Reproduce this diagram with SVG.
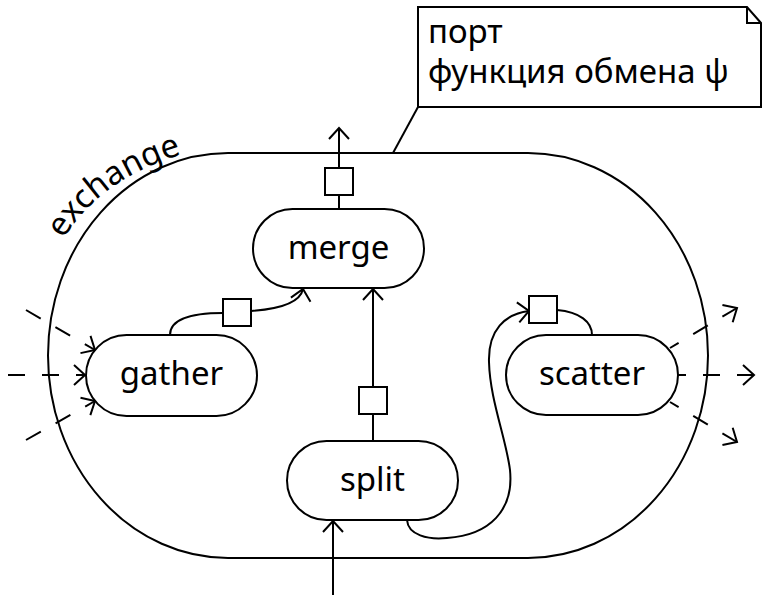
<svg xmlns="http://www.w3.org/2000/svg" width="762" height="595" viewBox="0 0 762 595">
  <style>
    .ln { fill: none; stroke: #000; stroke-width: 2; }
    .node { fill: #fff; stroke: #000; stroke-width: 2; }
    .port { fill: #fff; stroke: #000; stroke-width: 2; }
    .dash { fill: none; stroke: #000; stroke-width: 2; stroke-dasharray: 17 17; }
    .lbl { font-family: "Noto Sans", "Open Sans", sans-serif; font-size: 33px; fill: #000; }
    .mid { text-anchor: middle; }
  </style>
  <defs>
    <marker id="arr" markerUnits="userSpaceOnUse" markerWidth="30" markerHeight="30" viewBox="-15 -15 30 30" refX="0" refY="0" orient="auto-start-reverse">
      <path d="M-11,-10 L0,0 L-11,10" fill="none" stroke="#000" stroke-width="2"/>
    </marker>
    <!-- baseline of the container label, curving round the top-left corner -->
    <path id="exarc" d="M63,240 Q98,182 174,157"/>
  </defs>

  <!-- exchange container -->
  <g id="exchange">
    <rect class="ln" x="48" y="153" width="660" height="405" rx="180" ry="202.5"/>
    <text class="lbl"><textPath href="#exarc" startOffset="1">exchange</textPath></text>
  </g>

  <!-- note -->
  <g id="note">
    <path class="ln" d="M418,7 L747,7 L761,23 L761,107 L418,107 Z" fill="#fff"/>
    <path class="ln" d="M747,7 L747,23 L761,23"/>
    <text class="lbl"><tspan x="428" y="43">порт</tspan><tspan x="428" y="83">функция обмена ψ</tspan></text>
  </g>

  <g id="connectors">
    <!-- note anchor -->
    <path class="ln" d="M418,107 L393,153"/>
    <!-- merge output -->
    <path class="ln" d="M339,209 L339,195"/>
    <path class="ln" d="M339,168 L339,128" marker-end="url(#arr)"/>
    <!-- gather to merge -->
    <path class="ln" d="M170,335 C170,318 195,313 223,313"/>
    <path class="ln" d="M251,311 C280,309 300,303 303,289" marker-end="url(#arr)"/>
    <!-- split to merge -->
    <path class="ln" d="M373,441 L373,414"/>
    <path class="ln" d="M373,387 L373,289" marker-end="url(#arr)"/>
    <!-- split input -->
    <path class="ln" d="M333,595 L333,521" marker-end="url(#arr)"/>
    <!-- split to scatter -->
    <path class="ln" d="M407,520 C408,535 428,540 447,538 C490,535 514,510 510,470 C506,438 490,400 489,362 C488,330 505,314 529,311" marker-end="url(#arr)"/>
    <path class="ln" d="M557,310 C580,312 592,322 592,335"/>
    <!-- gather inputs -->
    <path class="dash" d="M26,310 L95,350" marker-end="url(#arr)"/>
    <path class="dash" d="M8,375 L85,375" marker-end="url(#arr)"/>
    <path class="dash" d="M26,440 L95,401" marker-end="url(#arr)"/>
    <!-- scatter outputs -->
    <path class="dash" d="M737,308 L670,348" marker-start="url(#arr)"/>
    <path class="dash" d="M754,375 L678,375" marker-start="url(#arr)"/>
    <path class="dash" d="M737,442 L670,402" marker-start="url(#arr)"/>
  </g>

  <!-- ports -->
  <g id="port-merge"><rect class="port" x="325" y="168" width="28" height="27"/></g>
  <g id="port-gather"><rect class="port" x="223" y="299" width="28" height="27"/></g>
  <g id="port-split"><rect class="port" x="359" y="387" width="28" height="27"/></g>
  <g id="port-scatter"><rect class="port" x="529" y="296" width="28" height="27"/></g>

  <!-- nodes -->
  <g id="merge">
    <rect class="node" x="253" y="209" width="171" height="79" rx="39.5"/>
    <text class="lbl mid" x="338.5" y="258.5">merge</text>
  </g>
  <g id="gather">
    <rect class="node" x="86" y="335" width="171" height="81" rx="40.5"/>
    <text class="lbl mid" x="171.5" y="385">gather</text>
  </g>
  <g id="scatter">
    <rect class="node" x="506" y="335" width="172" height="80" rx="40"/>
    <text class="lbl mid" x="592" y="385">scatter</text>
  </g>
  <g id="split">
    <rect class="node" x="287" y="441" width="171" height="79" rx="39.5"/>
    <text class="lbl mid" x="372.5" y="490.5">split</text>
  </g>
</svg>
